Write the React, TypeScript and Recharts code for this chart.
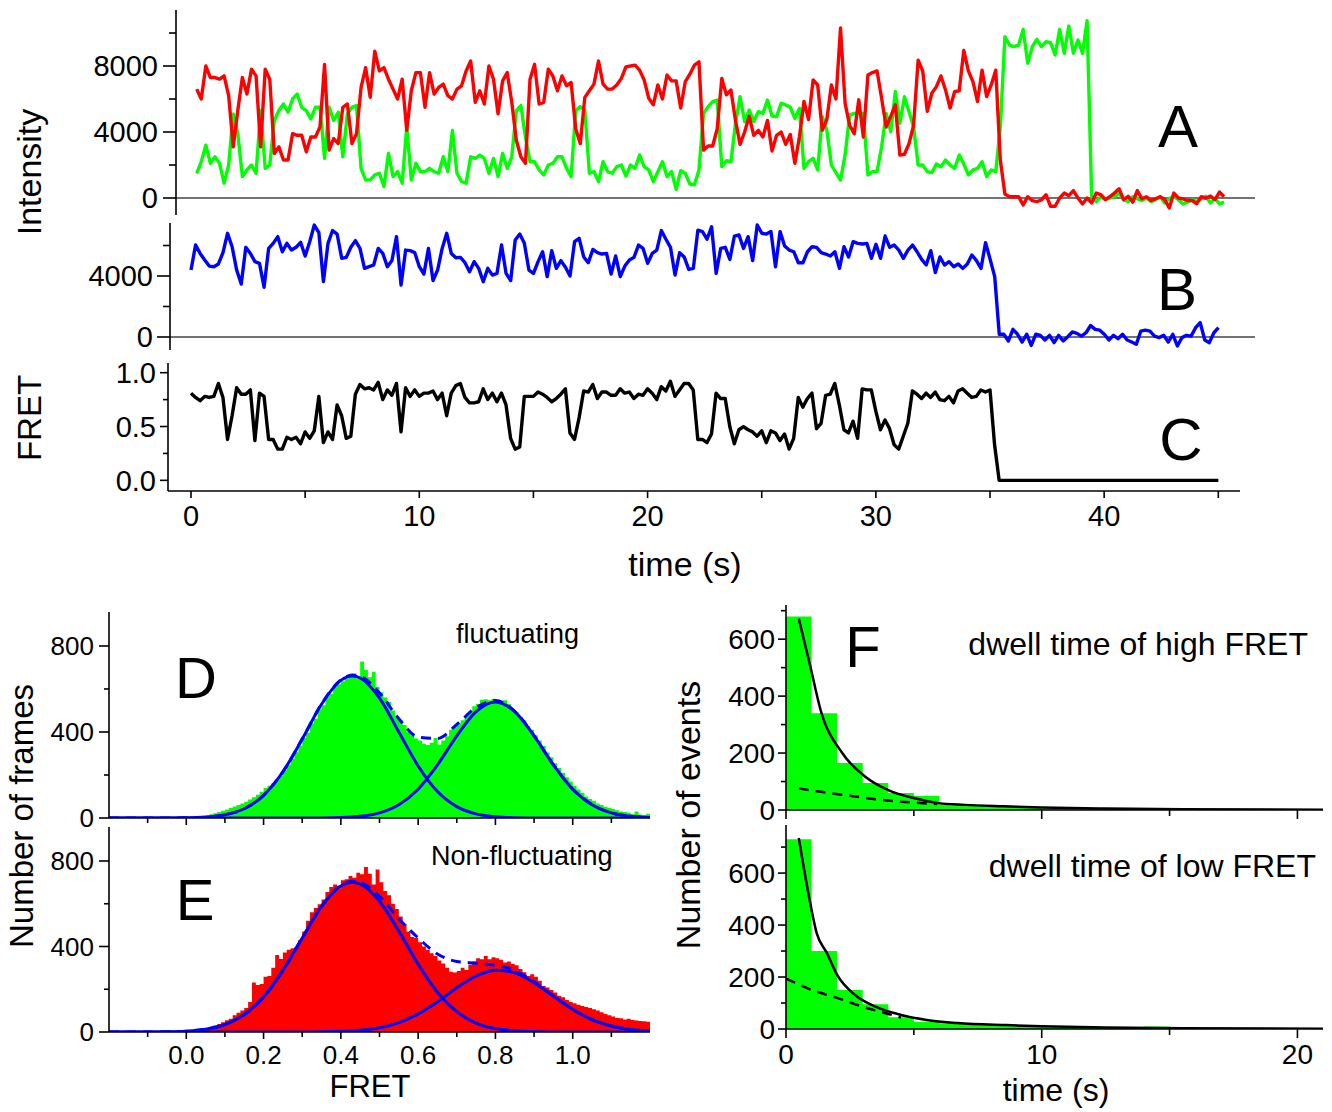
import { ComposedChart, LineChart, Line, Area, XAxis, YAxis, ReferenceLine } from 'recharts';

const FONT = '"Liberation Sans", Arial, Helvetica, sans-serif';

// ---- single-molecule trace, one frame every 0.2 s ----
const FRAME = 0.2;

const donor = [
  1500, 2200, 3200, 2100, 2500, 2100, 900, 2000, 5100, 3900,
  1300, 1700, 2000, 1500, 5300, 1800, 2000, 4700, 5300, 5700,
  5200, 6000, 6300, 5500, 5300, 4800, 5500, 5500, 2400, 5500,
  4700, 5200, 2500, 5100, 5500, 5600, 1800, 1100, 1100, 1400,
  1500, 700, 2700, 1300, 1600, 900, 4300, 1100, 2100, 1600,
  1600, 1800, 1600, 1500, 2500, 1600, 4100, 1500, 1000, 900,
  2500, 2400, 2600, 2400, 1500, 2400, 1300, 2700, 1800, 2500,
  5300, 5600, 3700, 2200, 2200, 1700, 1400, 2000, 2100, 2500,
  2500, 1800, 1300, 5300,
  5540, 5330, 1500, 1600, 990, 2200, 1600, 1500, 1900, 2000,
  1330, 2000, 1800, 2600, 1900, 1700, 990, 1600, 2200, 1300,
  1600, 530, 1660, 1500, 850, 800, 1700, 5130, 5540, 5840,
  5940, 1900, 2260, 2200, 4530, 6140, 4630, 5330, 4630, 5230,
  5130, 5940, 4970, 4930, 5740, 5640, 5500, 4830, 5430, 1800,
  2200, 2400, 1700, 4930, 4120, 2000, 1540, 1090, 2600, 5030,
  5130, 5130, 5130, 1400, 1600, 1600, 3110, 5130, 4020, 6450,
  4530, 6140, 5230, 4320, 2000, 2000, 1600, 1540, 2060, 1900,
  2300, 2000, 1800, 2600, 2060, 1400, 1700, 1800, 2200, 1300,
  1700, 1600, 4320,
  9770, 9270, 9170, 9270, 10220, 8160, 9170, 9620, 9170, 9470,
  9410, 8670, 10220, 8770, 10420, 8770, 9580, 8770, 10750, 80,
  -220, 80, -100, 0, 80, 300, -100, -220, 80, -50,
  -150, 0, -220, -100, 80, -300, -50, 100, -100, -360,
  -250, -100, -220, -50, 100, -300, -20, -360, -250,
];

const acceptor = [
  6600, 6000, 8000, 7300, 7300, 7200, 7400, 6200, 3100, 5300,
  7300, 6300, 7800, 7400, 3100, 7800, 7200, 2700, 3100, 2300,
  2300, 3900, 3800, 3800, 2800, 3700, 3700, 4300, 8100, 2900,
  3600, 3300, 5500, 5700, 3300, 3900, 6700, 7900, 6100, 8900,
  7700, 7900, 7200, 6600, 6000, 7200, 4100, 6500, 7600, 7600,
  5500, 7600, 6300, 6700, 6900, 6200, 6000, 6600, 6800, 7700,
  8300, 5800, 6500, 5700, 8000, 7200, 5100, 7100, 7600, 5800,
  3500, 2500, 2100, 7200, 8100, 5700, 5800, 7800, 7400, 6500,
  7400, 6800, 7000, 4200,
  3300, 6100, 6500, 6900, 8300, 6900, 6600, 6600, 6850, 7250,
  7950, 8000, 8050, 7750, 7150, 6050, 5650, 6850, 6000, 7450,
  7100, 7100, 5450, 7050, 7500, 8050, 8250, 2900, 3150, 3150,
  4200, 7250, 6250, 6550, 4700, 3250, 4000, 4950, 3800, 4100,
  3700, 4700, 2850, 3800, 4000, 3250, 3850, 2100, 3700, 5850,
  4750, 7150, 6850, 4100, 4750, 6850, 6000, 10300, 5750, 4400,
  3900, 5950, 3700, 7450, 7600, 7700, 6050, 4300, 4950, 5650,
  2600, 2650, 3300, 4400, 8350, 7700, 5250, 6350, 6750, 7400,
  6550, 5450, 6450, 6500, 8950, 7700, 7050, 5850, 7750, 6150,
  6850, 7750, 2300,
  240, 80, 80, 80, -420, 80, -160, -220, -120, 200,
  -500, -500, 0, 300, 140, 450, 0, -360, 0, -300,
  300, 200, -100, 80, 300, 560, -100, 100, -250, 450,
  -50, 80, -150, -50, 80, -100, -600, 300, 0, -50,
  -150, -150, -350, 80, -20, 120, -100, 360, 80,
];

const totalIntensity = [
  4390, 6030, 5480, 5050, 4650, 4610, 4790, 5530, 6800, 5920,
  4390, 3470, 5880, 5480, 4940, 4830, 3260, 5810, 6140, 6580,
  5590, 6140, 5700, 5880, 6210, 5310, 6250, 7340, 6840, 3630,
  6140, 6980, 6750, 5160, 5220, 5880, 6320, 5810, 4500, 4610,
  4720, 5810, 5480, 4610, 5010, 6580, 3400, 5700, 5660, 5530,
  4610, 4130, 5810, 3700, 4390, 5810, 6800, 5480, 5200, 5220,
  4870, 4280, 4940, 4500, 3630, 4500, 4060, 4170, 6030, 4170,
  3700, 6360, 6750, 6140, 4390, 4170, 4940, 5590, 3960, 5660,
  4500, 5010, 4570, 4000, 6250, 6470, 5250, 4870, 5740, 5530,
  5440, 5480, 4130, 5310, 3960, 4650, 5050, 5220, 6030, 5810,
  4830, 5480, 5700, 6980, 6410, 5880, 4060,
  5530, 5250, 4430, 4500, 7010, 6910, 6410, 7230, 4170, 5810,
  5880, 5090, 6620, 6690, 5810, 6580, 5010, 7340, 6800, 6750,
  6910, 4610, 6910, 5970, 5700, 5590, 4870, 4870, 5590, 5920,
  5880, 5530, 5440, 5310, 5590, 4500, 5920, 5250, 6250, 6140,
  6100, 6140, 5160, 6080, 5160, 6620, 5880, 6030, 5700, 5160,
  5700, 6030, 5590, 5090, 4720, 5660, 4220, 5250, 4720, 4940,
  4610, 4790, 4500, 4790, 5380, 5010, 4500, 6190, 5090, 3960,
  180, 180, -260, 500, 180, -330, 180, -550, 180, 110,
  -200, 110, -370, 110, -260, 20, 330, 240, 60, 280,
  760, 500, 450, 180, -200, 110, -110, 180, -200, -330,
  -480, 390, 450, 390, 60, -40, 110, -330, 180, -590,
  -40, 110, 60, 610, 940, -200, -370, 280, 610,
];

const fretTrace = [
  0.81, 0.77, 0.74, 0.78, 0.77, 0.78, 0.90, 0.77, 0.38, 0.60,
  0.86, 0.80, 0.80, 0.84, 0.37, 0.81, 0.78, 0.38, 0.38, 0.29,
  0.29, 0.40, 0.38, 0.40, 0.34, 0.45, 0.39, 0.46, 0.78, 0.35,
  0.45, 0.38, 0.70, 0.60, 0.39, 0.41, 0.80, 0.89, 0.85, 0.86,
  0.84, 0.91, 0.75, 0.84, 0.79, 0.90, 0.45, 0.86, 0.78, 0.84,
  0.78, 0.81, 0.81, 0.83, 0.75, 0.81, 0.60, 0.81, 0.88, 0.90,
  0.77, 0.72, 0.72, 0.73, 0.85, 0.75, 0.81, 0.73, 0.81, 0.70,
  0.39, 0.29, 0.31, 0.78, 0.78, 0.78, 0.82, 0.80, 0.77, 0.73,
  0.76, 0.80, 0.85, 0.44, 0.38, 0.58, 0.83, 0.82, 0.89, 0.76,
  0.82, 0.82, 0.79, 0.79, 0.85, 0.81, 0.82, 0.76, 0.80, 0.79,
  0.85, 0.81, 0.75, 0.87, 0.83, 0.92, 0.78, 0.84, 0.90, 0.90,
  0.84,
  0.38, 0.38, 0.35, 0.43, 0.81, 0.76, 0.76, 0.50, 0.34, 0.47,
  0.50, 0.47, 0.45, 0.41, 0.46, 0.35, 0.46, 0.44, 0.37, 0.43,
  0.29, 0.39, 0.77, 0.68, 0.76, 0.81, 0.48, 0.53, 0.79, 0.80,
  0.90, 0.70, 0.47, 0.44, 0.55, 0.39, 0.85, 0.84, 0.84, 0.64,
  0.47, 0.56, 0.48, 0.33, 0.29, 0.41, 0.53, 0.83, 0.80, 0.76,
  0.81, 0.77, 0.82, 0.75, 0.74, 0.78, 0.72, 0.83, 0.85, 0.81,
  0.77, 0.78, 0.84, 0.82, 0.84, 0.33,
  0, 0, 0, 0, 0, 0, 0, 0, 0, 0,
  0, 0, 0, 0, 0, 0, 0, 0, 0, 0,
  0, 0, 0, 0, 0, 0, 0, 0, 0, 0,
  0, 0, 0, 0, 0, 0, 0, 0, 0, 0,
  0, 0, 0, 0, 0, 0, 0, 0, 0,
];

const traceData = fretTrace.map((f, i) => ({
  t: Math.round(i * FRAME * 10) / 10,
  donor: donor[i],
  acceptor: acceptor[i],
  total: totalIntensity[i],
  fret: f,
}));

// ---- FRET histograms, bins of 0.01 starting at -0.20 ----
const binStart = -0.2;
const binWidth = 0.01;

const fluctHist = [
  0, 0, 0, 0, 0, 0, 1, 0, 1, 1,
  1, 2, 1, 2, 2, 3, 2, 3, 4, 4,
  6, 7, 9, 10, 12, 14, 18, 22, 28, 34,
  40, 46, 54, 60, 68, 76, 86, 96, 108, 122,
  140, 150, 162, 178, 196, 222, 248, 276, 306, 336,
  372, 396, 440, 462, 505, 524, 562, 578, 610, 622,
  636, 648, 655, 668, 648, 728, 690, 655, 680, 610,
  585, 560, 540, 500, 470, 455, 432, 400, 385, 370,
  360, 345, 340, 350, 372, 342, 360, 380, 410, 425,
  440, 455, 475, 495, 520, 530, 550, 552, 548, 555,
  550, 545, 548, 530, 505, 492, 470, 455, 428, 410,
  385, 360, 335, 305, 282, 255, 232, 210, 190, 170,
  150, 132, 118, 100, 88, 80, 68, 60, 52, 48,
  42, 36, 30, 28, 24, 18, 30, 16, 14, 20,
];

const nonFluctHist = [
  0, 0, 0, 0, 1, 0, 1, 1, 1, 2,
  2, 2, 3, 3, 4, 4, 5, 5, 6, 7,
  8, 9, 10, 12, 14, 18, 22, 30, 38, 46,
  55, 62, 78, 90, 100, 112, 140, 232, 220, 225,
  258, 262, 300, 360, 342, 372, 385, 392, 398, 430,
  470, 520, 560, 580, 598, 620, 655, 678, 690, 672,
  710, 715, 730, 722, 745, 738, 772, 740, 690, 760,
  700, 660, 640, 600, 575, 540, 505, 470, 445, 440,
  420, 400, 385, 368, 355, 335, 320, 300, 282, 278,
  285, 300, 290, 315, 330, 345, 340, 355, 340, 350,
  345, 338, 325, 330, 318, 312, 295, 280, 262, 270,
  258, 240, 215, 208, 196, 185, 170, 162, 150, 140,
  135, 128, 122, 117, 112, 106, 100, 92, 84, 78,
  72, 66, 64, 58, 62, 56, 54, 52, 50, 48,
];

// gaussian fits, read at these FRET values
const fitX = [
  -0.2, -0.15, -0.1, -0.05, 0, 0.05, 0.1, 0.15, 0.2, 0.25,
  0.3, 0.35, 0.4, 0.43, 0.45, 0.5, 0.55, 0.6, 0.65, 0.7,
  0.75, 0.8, 0.85, 0.9, 0.95, 1.0, 1.05, 1.1, 1.15, 1.2,
];
const fluctLow = [0, 0, 0, 0, 1, 4, 15, 43, 105, 215, 367, 529, 640, 660, 651, 557, 400, 242, 123, 53, 19, 6, 1, 0, 0, 0, 0, 0, 0, 0];
const fluctHigh = [0, 0, 0, 0, 0, 0, 0, 0, 0, 0, 0, 0, 2, 5, 8, 24, 62, 134, 247, 382, 495, 540, 495, 382, 247, 134, 62, 24, 8, 2];
const fluctSum = [0, 0, 0, 0, 1, 4, 15, 43, 105, 215, 367, 530, 642, 665, 659, 581, 462, 376, 370, 435, 514, 546, 496, 382, 247, 134, 62, 24, 8, 2];
const nonFluctLow = [0, 0, 0, 1, 4, 13, 35, 82, 164, 288, 440, 587, 683, 700, 692, 612, 472, 317, 186, 95, 42, 16, 6, 2, 0, 0, 0, 0, 0, 0];
const nonFluctHigh = [0, 0, 0, 0, 0, 0, 0, 0, 0, 0, 0, 1, 3, 5, 8, 20, 44, 85, 142, 207, 262, 289, 277, 231, 168, 106, 58, 28, 12, 4];
const nonFluctSum = [0, 0, 0, 1, 4, 13, 35, 82, 164, 288, 440, 588, 686, 705, 700, 635, 530, 440, 365, 330, 322, 312, 288, 235, 168, 106, 58, 28, 12, 4];

// ---- dwell time histograms, 1 s bins from 0 ----
const highDwell = [680, 340, 165, 95, 60, 50, 20, 15, 12, 8, 6, 5, 4, 3, 3, 2, 2, 1, 1, 1, 0];
const lowDwell = [730, 300, 150, 95, 45, 28, 22, 18, 15, 12, 8, 5, 4, 3, 10, 2, 2, 1, 1, 1, 2];

const highFitX = [0.5, 0.95, 1.35, 2.2, 3.1, 4.0, 5.0, 5.9, 7, 8.5, 10, 12.5, 15.5, 21];
const highFit = [672, 505, 352, 200, 117, 70, 42, 25, 18, 13, 9, 5, 3, 1];
const highSlowX = [0.5, 1.5, 2.5, 3.5, 4.5, 5.9];
const highSlow = [76, 62, 50, 38, 29, 21];

const lowFitX = [0.5, 0.9, 1.2, 1.6, 2, 2.7, 3.5, 4.5, 5.5, 6.7, 8.6, 10, 12.5, 15.5, 21];
const lowFit = [735, 509, 369, 292, 208, 131, 86, 54, 35, 23, 15, 11, 6, 3, 1];
const lowSlowX = [0, 1, 2, 3, 4, 4.5];
const lowSlow = [194, 150, 120, 85, 58, 44];

type Series = { key: string; x: number[]; y: number[] };

function steps(start: number, width: number, counts: number[]) {
  const x = counts.map((_, i) => start + i * width);
  x.push(start + counts.length * width);
  return { x, y: [...counts, counts[counts.length - 1]] };
}

function merge(series: Series[]) {
  const rows = new Map<number, Record<string, number>>();
  series.forEach((s) =>
    s.x.forEach((x, i) => {
      const k = Math.round(x * 1000);
      const row = rows.get(k) ?? { x: k / 1000 };
      row[s.key] = s.y[i];
      rows.set(k, row);
    }),
  );
  return [...rows.values()].sort((a, b) => a.x - b.x);
}

const fluctData = merge([
  { key: 'hist', ...steps(binStart, binWidth, fluctHist) },
  { key: 'low', x: fitX, y: fluctLow },
  { key: 'high', x: fitX, y: fluctHigh },
  { key: 'sum', x: fitX, y: fluctSum },
]);
const nonFluctData = merge([
  { key: 'hist', ...steps(binStart, binWidth, nonFluctHist) },
  { key: 'low', x: fitX, y: nonFluctLow },
  { key: 'high', x: fitX, y: nonFluctHigh },
  { key: 'sum', x: fitX, y: nonFluctSum },
]);
const highData = merge([
  { key: 'hist', ...steps(0, 1, highDwell) },
  { key: 'fit', x: highFitX, y: highFit },
  { key: 'slow', x: highSlowX, y: highSlow },
]);
const lowData = merge([
  { key: 'hist', ...steps(0, 1, lowDwell) },
  { key: 'fit', x: lowFitX, y: lowFit },
  { key: 'slow', x: lowSlowX, y: lowSlow },
]);

// ---- axis ticks ----
type TickCfg = {
  majors: number[];
  major: number;
  minor: number;
  gap: number;
  size: number;
  label?: boolean;
  fmt?: (v: number) => string;
};

const isIn = (v: number, arr: number[]) => arr.some((m) => Math.abs(m - v) < 1e-6);

function leftTick(c: TickCfg) {
  return (p: any) => {
    const v = p.payload.value;
    const big = isIn(v, c.majors);
    const len = big ? c.major : c.minor;
    return (
      <g>
        <line x1={p.x - len} x2={p.x} y1={p.y} y2={p.y} stroke="#000" strokeWidth={1.6} />
        {big && (
          <text x={p.x - len - c.gap} y={p.y} dy="0.36em" textAnchor="end" fontSize={c.size} fontFamily={FONT} fill="#000">
            {c.fmt ? c.fmt(v) : String(v)}
          </text>
        )}
      </g>
    );
  };
}

function bottomTick(c: TickCfg) {
  return (p: any) => {
    const v = p.payload.value;
    const big = isIn(v, c.majors);
    const len = big ? c.major : c.minor;
    return (
      <g>
        <line x1={p.x} x2={p.x} y1={p.y} y2={p.y + len} stroke="#000" strokeWidth={1.6} />
        {big && c.label !== false && (
          <text x={p.x} y={p.y + c.gap} textAnchor="middle" fontSize={c.size} fontFamily={FONT} fill="#000">
            {c.fmt ? c.fmt(v) : String(v)}
          </text>
        )}
      </g>
    );
  };
}

const axisLine = { stroke: '#000', strokeWidth: 1.6 };
const YW = 100;
const MT = 8;
const MR = 10;

function Box({ px, py, children }: { px: number; py: number; children: React.ReactNode }) {
  return <div style={{ position: 'absolute', left: px - YW, top: py - MT }}>{children}</div>;
}

const fixed1 = (v: number) => v.toFixed(1);

export default function App() {
  const traceLine = { type: 'linear' as const, dot: false, isAnimationActive: false, strokeWidth: 3.4, strokeLinejoin: 'round' as const };

  return (
    <div style={{ position: 'absolute', left: 0, top: 0, width: 1332, height: 1112, background: '#fff', overflow: 'hidden' }}>
      {/* A: donor / acceptor */}
      <Box px={176} py={10}>
        <LineChart width={YW + 1079 + MR} height={MT + 205 + 14} data={traceData} margin={{ top: MT, right: MR, bottom: 14, left: 0 }}>
          <XAxis type="number" dataKey="t" domain={[-0.907, 46.355]} hide allowDataOverflow />
          <YAxis type="number" width={YW} domain={[-1030, 11394]} allowDataOverflow ticks={[0, 2000, 4000, 6000, 8000, 10000]} interval={0}
            tickSize={0} tickMargin={0} tickLine={false} axisLine={axisLine}
            tick={leftTick({ majors: [0, 4000, 8000], major: 13, minor: 7, gap: 5, size: 29 })} />
          <ReferenceLine y={0} stroke="#444" strokeWidth={1.5} />
          <Line dataKey="donor" stroke="#00ff00" {...traceLine} />
          <Line dataKey="acceptor" stroke="#ff0000" {...traceLine} />
        </LineChart>
      </Box>

      {/* B: total intensity */}
      <Box px={170} py={223}>
        <LineChart width={YW + 1085 + MR} height={MT + 127 + 14} data={traceData} margin={{ top: MT, right: MR, bottom: 14, left: 0 }}>
          <XAxis type="number" dataKey="t" domain={[-0.92, 46.6]} hide allowDataOverflow />
          <YAxis type="number" width={YW} domain={[-852, 7475]} allowDataOverflow ticks={[0, 2000, 4000, 6000]} interval={0}
            tickSize={0} tickMargin={0} tickLine={false} axisLine={axisLine}
            tick={leftTick({ majors: [0, 4000], major: 13, minor: 7, gap: 4, size: 29 })} />
          <ReferenceLine y={0} stroke="#444" strokeWidth={1.5} />
          <Line dataKey="total" stroke="#0000ff" {...traceLine} />
        </LineChart>
      </Box>

      {/* C: FRET */}
      <Box px={168} py={363}>
        <LineChart width={YW + 1072 + MR} height={MT + 128 + 44} data={traceData} margin={{ top: MT, right: MR, bottom: 0, left: 0 }}>
          <XAxis type="number" dataKey="t" domain={[-1.007, 45.95]} allowDataOverflow height={44}
            ticks={[0, 5, 10, 15, 20, 25, 30, 35, 40, 45]} interval={0} tickSize={0} tickMargin={0} tickLine={false} axisLine={axisLine}
            tick={bottomTick({ majors: [0, 10, 20, 30, 40], major: 7, minor: 7, gap: 35, size: 29 })} />
          <YAxis type="number" width={YW} domain={[-0.099, 1.09]} allowDataOverflow ticks={[0, 0.25, 0.5, 0.75, 1]} interval={0}
            tickSize={0} tickMargin={0} tickLine={false} axisLine={axisLine}
            tick={leftTick({ majors: [0, 0.5, 1], major: 8, minor: 5, gap: 4, size: 29, fmt: fixed1 })} />
          <Line dataKey="fret" stroke="#000" {...traceLine} />
        </LineChart>
      </Box>

      {/* D: fluctuating histogram */}
      <Box px={109} py={612}>
        <ComposedChart width={YW + 541 + MR} height={MT + 206 + 18} data={fluctData} margin={{ top: MT, right: MR, bottom: 0, left: 0 }}>
          <XAxis type="number" dataKey="x" domain={[-0.2, 1.2]} allowDataOverflow height={18}
            ticks={[-0.1, 0, 0.1, 0.2, 0.3, 0.4, 0.5, 0.6, 0.7, 0.8, 0.9, 1.0, 1.1]} interval={0} tickSize={0} tickMargin={0} tickLine={false} axisLine={axisLine}
            tick={bottomTick({ majors: [0, 0.2, 0.4, 0.6, 0.8, 1.0], major: 7, minor: 5, gap: 0, size: 26, label: false })} />
          <YAxis type="number" width={YW} domain={[0, 958]} allowDataOverflow ticks={[0, 200, 400, 600, 800]} interval={0}
            tickSize={0} tickMargin={0} tickLine={false} axisLine={axisLine}
            tick={leftTick({ majors: [0, 400, 800], major: 10, minor: 5, gap: 5, size: 26 })} />
          <Area dataKey="hist" type="stepAfter" fill="#00ff00" fillOpacity={1} stroke="none" connectNulls isAnimationActive={false} />
          <Line dataKey="sum" type="monotone" stroke="#0000ff" strokeWidth={3} strokeDasharray="10 7" dot={false} connectNulls isAnimationActive={false} />
          <Line dataKey="low" type="monotone" stroke="#0000ff" strokeWidth={3} dot={false} connectNulls isAnimationActive={false} />
          <Line dataKey="high" type="monotone" stroke="#0000ff" strokeWidth={3} dot={false} connectNulls isAnimationActive={false} />
        </ComposedChart>
      </Box>

      {/* E: non-fluctuating histogram */}
      <Box px={109} py={827}>
        <ComposedChart width={YW + 541 + MR} height={MT + 205 + 40} data={nonFluctData} margin={{ top: MT, right: MR, bottom: 0, left: 0 }}>
          <XAxis type="number" dataKey="x" domain={[-0.2, 1.2]} allowDataOverflow height={40}
            ticks={[-0.1, 0, 0.1, 0.2, 0.3, 0.4, 0.5, 0.6, 0.7, 0.8, 0.9, 1.0, 1.1]} interval={0} tickSize={0} tickMargin={0} tickLine={false} axisLine={axisLine}
            tick={bottomTick({ majors: [0, 0.2, 0.4, 0.6, 0.8, 1.0], major: 7, minor: 5, gap: 32, size: 26, fmt: fixed1 })} />
          <YAxis type="number" width={YW} domain={[0, 959]} allowDataOverflow ticks={[0, 200, 400, 600, 800]} interval={0}
            tickSize={0} tickMargin={0} tickLine={false} axisLine={axisLine}
            tick={leftTick({ majors: [0, 400, 800], major: 10, minor: 5, gap: 5, size: 26 })} />
          <Area dataKey="hist" type="stepAfter" fill="#ff0000" fillOpacity={1} stroke="none" connectNulls isAnimationActive={false} />
          <Line dataKey="sum" type="monotone" stroke="#0000ff" strokeWidth={3} strokeDasharray="10 7" dot={false} connectNulls isAnimationActive={false} />
          <Line dataKey="low" type="monotone" stroke="#0000ff" strokeWidth={3} dot={false} connectNulls isAnimationActive={false} />
          <Line dataKey="high" type="monotone" stroke="#0000ff" strokeWidth={3} dot={false} connectNulls isAnimationActive={false} />
        </ComposedChart>
      </Box>

      {/* F: dwell time of high FRET */}
      <Box px={786} py={605}>
        <ComposedChart width={YW + 537 + MR} height={MT + 205 + 18} data={highData} margin={{ top: MT, right: MR, bottom: 0, left: 0 }}>
          <XAxis type="number" dataKey="x" domain={[0, 21]} allowDataOverflow height={18}
            ticks={[0, 5, 10, 15, 20]} interval={0} tickSize={0} tickMargin={0} tickLine={false} axisLine={axisLine}
            tick={bottomTick({ majors: [0, 10, 20], major: 9, minor: 6, gap: 0, size: 28, label: false })} />
          <YAxis type="number" width={YW} domain={[0, 720]} allowDataOverflow ticks={[0, 100, 200, 300, 400, 500, 600, 700]} interval={0}
            tickSize={0} tickMargin={0} tickLine={false} axisLine={axisLine}
            tick={leftTick({ majors: [0, 200, 400, 600], major: 8, minor: 5, gap: 3, size: 28 })} />
          <Area dataKey="hist" type="stepAfter" fill="#00ff00" fillOpacity={1} stroke="none" connectNulls isAnimationActive={false} />
          <Line dataKey="slow" type="linear" stroke="#000" strokeWidth={2.5} strokeDasharray="10 7" dot={false} connectNulls isAnimationActive={false} />
          <Line dataKey="fit" type="monotone" stroke="#000" strokeWidth={2.5} dot={false} connectNulls isAnimationActive={false} />
        </ComposedChart>
      </Box>

      {/* F: dwell time of low FRET */}
      <Box px={786} py={825}>
        <ComposedChart width={YW + 537 + MR} height={MT + 204 + 44} data={lowData} margin={{ top: MT, right: MR, bottom: 0, left: 0 }}>
          <XAxis type="number" dataKey="x" domain={[0, 21]} allowDataOverflow height={44}
            ticks={[0, 5, 10, 15, 20]} interval={0} tickSize={0} tickMargin={0} tickLine={false} axisLine={axisLine}
            tick={bottomTick({ majors: [0, 10, 20], major: 9, minor: 6, gap: 35, size: 28 })} />
          <YAxis type="number" width={YW} domain={[0, 785]} allowDataOverflow ticks={[0, 100, 200, 300, 400, 500, 600, 700]} interval={0}
            tickSize={0} tickMargin={0} tickLine={false} axisLine={axisLine}
            tick={leftTick({ majors: [0, 200, 400, 600], major: 8, minor: 5, gap: 3, size: 28 })} />
          <Area dataKey="hist" type="stepAfter" fill="#00ff00" fillOpacity={1} stroke="none" connectNulls isAnimationActive={false} />
          <Line dataKey="slow" type="linear" stroke="#000" strokeWidth={2.5} strokeDasharray="10 7" dot={false} connectNulls isAnimationActive={false} />
          <Line dataKey="fit" type="monotone" stroke="#000" strokeWidth={2.5} dot={false} connectNulls isAnimationActive={false} />
        </ComposedChart>
      </Box>

      {/* titles and panel letters */}
      <svg width={1332} height={1112} style={{ position: 'absolute', left: 0, top: 0, pointerEvents: 'none' }} fontFamily={FONT} fill="#000">
        <text transform="translate(41,172) rotate(-90)" textAnchor="middle" fontSize={34}>Intensity</text>
        <text transform="translate(41,418) rotate(-90)" textAnchor="middle" fontSize={33}>FRET</text>
        <text x={685} y={576} textAnchor="middle" fontSize={34}>time (s)</text>
        <text x={1178} y={147} textAnchor="middle" fontSize={60}>A</text>
        <text x={1177} y={310} textAnchor="middle" fontSize={60}>B</text>
        <text x={1181} y={460} textAnchor="middle" fontSize={60}>C</text>

        <text transform="translate(33,816) rotate(-90)" textAnchor="middle" fontSize={33}>Number of frames</text>
        <text x={196} y={698} textAnchor="middle" fontSize={58}>D</text>
        <text x={195} y={920} textAnchor="middle" fontSize={58}>E</text>
        <text x={456} y={643} fontSize={27}>fluctuating</text>
        <text x={431} y={865} fontSize={27}>Non-fluctuating</text>
        <text x={370} y={1097} textAnchor="middle" fontSize={31}>FRET</text>

        <text transform="translate(700,815) rotate(-90)" textAnchor="middle" fontSize={34}>Number of events</text>
        <text x={863} y={667} textAnchor="middle" fontSize={58}>F</text>
        <text x={1308} y={655} textAnchor="end" fontSize={32}>dwell time of high FRET</text>
        <text x={1316} y={877} textAnchor="end" fontSize={32}>dwell time of low FRET</text>
        <text x={1056} y={1101} textAnchor="middle" fontSize={32}>time (s)</text>
      </svg>
    </div>
  );
}
